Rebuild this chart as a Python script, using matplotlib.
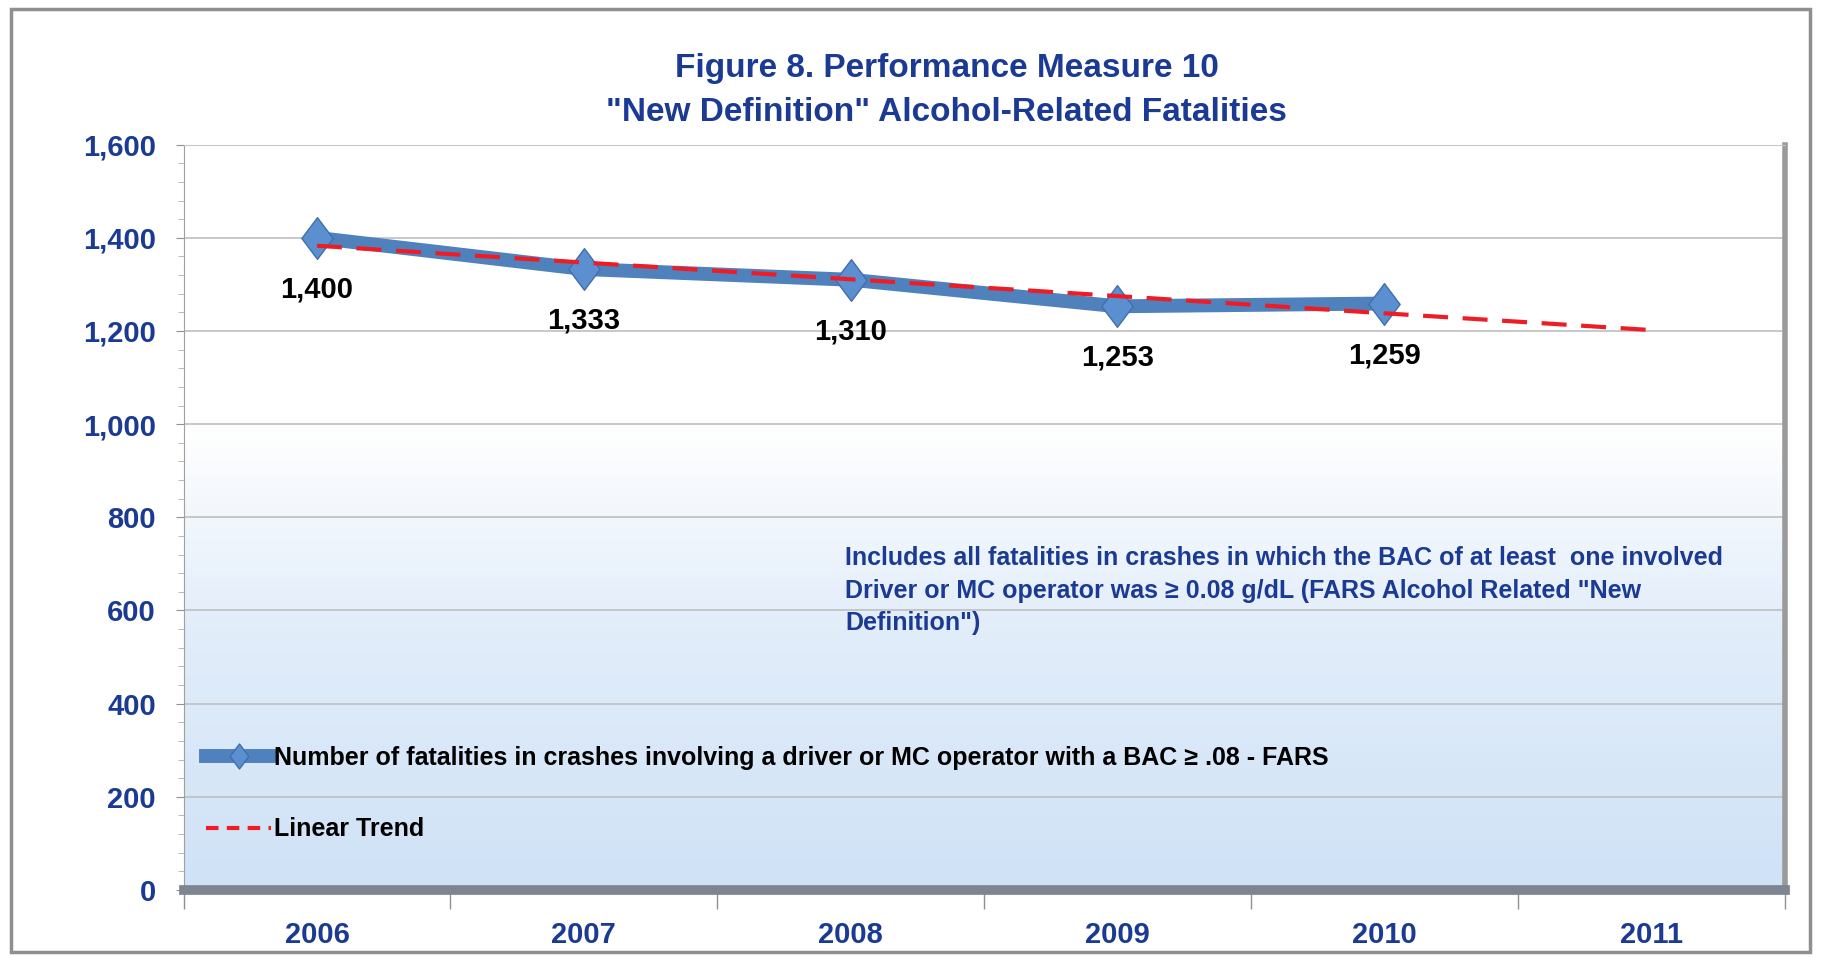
import numpy as np
import matplotlib
matplotlib.use('Agg')
import matplotlib.pyplot as plt
from matplotlib.colors import LinearSegmentedColormap
from matplotlib.lines import Line2D
from matplotlib.patches import Rectangle
from matplotlib.path import Path

plt.rcParams['font.family'] = ['Liberation Sans', 'DejaVu Sans']

# data
years = ['2006', '2007', '2008', '2009', '2010', '2011']
fatalities = [1400, 1333, 1310, 1253, 1259]
fatality_labels = ['1,400', '1,333', '1,310', '1,253', '1,259']
trend = [1383, 1347, 1311, 1275, 1238, 1202]

title = 'Figure 8. Performance Measure 10\n"New Definition" Alcohol-Related Fatalities'
note = ('Includes all fatalities in crashes in which the BAC of at least  one involved\n'
        'Driver or MC operator was \u2265 0.08 g/dL (FARS Alcohol Related "New\n'
        'Definition")')

navy = '#1b3a94'
line_blue = '#4f81bd'

# tall diamond like the excel marker
diamond = Path([(0, 1), (0.75, 0), (0, -1), (-0.75, 0), (0, 1)],
               [Path.MOVETO, Path.LINETO, Path.LINETO, Path.LINETO, Path.CLOSEPOLY])

fig = plt.figure(figsize=(18.21, 9.58), dpi=100)
fig.patch.set_facecolor('white')

# outer frame
fig.patches.append(Rectangle((0.006, 0.006), 0.988, 0.985, transform=fig.transFigure,
                             fill=False, edgecolor='#8f8f8f', lw=2.5))

ax = fig.add_axes([0.1008, 0.071, 0.8792, 0.778])
x = np.arange(len(years))

ax.set_xlim(-0.5, 5.5)
ax.set_ylim(0, 1600)

# background gradient, white at top to light blue at bottom
cmap = LinearSegmentedColormap.from_list('bg', [(0, '#cfe2f6'), (0.35, '#e2edfa'), (0.62, '#ffffff'), (1, '#ffffff')])
grad = np.linspace(0, 1, 256).reshape(-1, 1)
ax.imshow(grad, extent=[-0.5, 5.5, 0, 1600], origin='lower', aspect='auto', cmap=cmap, zorder=0)

ax.set_yticks(np.arange(0, 1601, 200))
ax.set_yticks(np.arange(0, 1601, 40), minor=True)
ax.set_yticklabels([f'{v:,}' for v in range(0, 1601, 200)])
ax.yaxis.grid(True, color='#bfbfbf', lw=1.2, zorder=1)
ax.set_axisbelow(True)

ax.set_xticks(x)
ax.set_xticklabels(years)
ax.set_xticks(np.arange(-0.5, 5.6, 1), minor=True)
ax.tick_params(axis='x', which='major', length=0, pad=22)
ax.tick_params(axis='x', which='minor', length=14, color='#909090', width=1)
ax.tick_params(axis='y', which='major', length=6, color='#909090', pad=14)
ax.tick_params(axis='y', which='minor', length=4, color='#b0b0b0')

for lab in ax.get_xticklabels() + ax.get_yticklabels():
    lab.set_color(navy)
    lab.set_fontweight('bold')
    lab.set_fontsize(21)

ax.spines['top'].set_color('#c8c8c8')
ax.spines['left'].set_color('#a0a0a0')
ax.spines['right'].set_color('#9a9a9a')
ax.spines['right'].set_linewidth(4)
ax.spines['bottom'].set_color('#7f8590')
ax.spines['bottom'].set_linewidth(7)

# data line
ax.plot(x[:len(fatalities)], fatalities, color=line_blue, lw=10, solid_capstyle='round',
        marker=diamond, markersize=30, markerfacecolor='#5b8fd0', markeredgecolor='#3f6fae',
        markeredgewidth=1, zorder=3)
# trend
ax.plot(x, trend, color='#ee1c24', lw=3, dashes=(6, 3.5), zorder=4)

for xi, v, lab in zip(x, fatalities, fatality_labels):
    ax.annotate(lab, (xi, v), xytext=(0, -27), textcoords='offset points',
                ha='center', va='top', fontsize=21, fontweight='bold', color='black', zorder=5)

ax.text(1.98, 738, note, fontsize=18, fontweight='bold', color=navy,
        va='top', ha='left', linespacing=1.45)

handles = [
    Line2D([], [], color=line_blue, lw=10, marker=diamond, markersize=18,
           markerfacecolor='#5b8fd0', markeredgecolor='#3f6fae'),
    Line2D([], [], color='#ee1c24', lw=3, dashes=(3, 2)),
]
leg = ax.legend(handles, ['Number of fatalities in crashes involving a driver or MC operator with a BAC \u2265 .08 - FARS',
                          'Linear Trend'],
                loc='lower left', bbox_to_anchor=(0.0, 0.035), frameon=False,
                prop={'size': 18, 'weight': 'bold'}, handlelength=2.6, handletextpad=0.1,
                labelspacing=1.9, borderaxespad=0.5)

fig.suptitle(title, x=0.52, y=0.945, fontsize=24, fontweight='bold', color=navy, linespacing=1.55)

fig.savefig('out.png', dpi=100)
